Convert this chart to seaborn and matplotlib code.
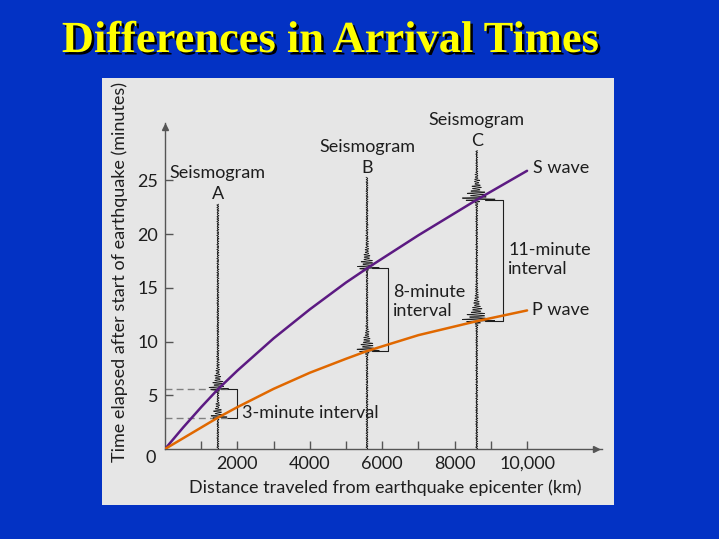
import numpy as np
import pandas as pd
import matplotlib
matplotlib.use("Agg")
import matplotlib.pyplot as plt
import matplotlib.patheffects as pe
from matplotlib.patches import Rectangle
import seaborn as sns

# travel-time curves (km, minutes)
distance_km = [0, 500, 1000, 1460, 2000, 3000, 4000, 5000, 5580, 7000, 8610, 10000]
s_wave_min = [0, 2.0, 3.9, 5.56, 7.3, 10.3, 13.0, 15.5, 16.82, 19.9, 23.2, 25.9]
p_wave_min = [0, 1.0, 2.0, 2.92, 3.9, 5.6, 7.1, 8.4, 9.12, 10.6, 11.9, 12.9]

# seismograph stations
station_names = ["A", "B", "C"]
station_km = [1460, 5580, 8610]
station_top_min = [22.8, 25.3, 27.8]
s_arrival_min = [5.56, 16.82, 23.2]
p_arrival_min = [2.92, 9.12, 11.9]
interval_labels = ["3-minute interval", "8-minute\ninterval", "11-minute\ninterval"]

x_ticks = [2000, 4000, 6000, 8000, 10000]
x_tick_labels = ["2000", "4000", "6000", "8000", "10,000"]
x_minor = [1000, 3000, 5000, 7000, 9000]
y_ticks = [5, 10, 15, 20, 25]

BLUE = "#0332C4"
PANEL = "#E6E6E6"
S_COLOR = "#5C1A82"
P_COLOR = "#E06800"
INK = "#1E1E1E"
AXIS = "#555555"
FS = 13

sns.set_style("ticks")
plt.rcParams["font.family"] = ["Lato", "DejaVu Sans"]

W, H = 719, 539
fig = plt.figure(figsize=(W / 100, H / 100), dpi=100, facecolor=BLUE)
fig.patches.append(Rectangle((102 / W, 1 - 505 / H), (614 - 102) / W, (505 - 78) / H,
                             transform=fig.transFigure, facecolor=PANEL,
                             edgecolor="none", zorder=-1))

ax = fig.add_axes([165 / W, 90 / H, 437 / W, 326 / H])
ax.set_zorder(2)
ax.set_facecolor("none")
ax.set_xlim(0, 12070)
ax.set_ylim(0, 30.35)

# curves
n = len(distance_km)
curves = pd.DataFrame({
    "distance": distance_km * 2,
    "time": s_wave_min + p_wave_min,
    "wave": ["S"] * n + ["P"] * n,
})
sns.lineplot(data=curves, x="distance", y="time", hue="wave",
             palette={"S": S_COLOR, "P": P_COLOR}, linewidth=1.8,
             legend=False, sort=False, ax=ax, zorder=4)


def seismogram(x0, top, arrivals, amps):
    # decorative trace: small background jitter plus a burst at each arrival
    t = np.linspace(0, top, 5000)
    wiggle = 32 * (0.5 * np.sin(t * 29.0) + 0.3 * np.sin(t * 53.0 + 1.3)
                   + 0.2 * np.sin(t * 97.0 + 0.4))
    for ta, amp in zip(arrivals, amps):
        dt = t - ta
        env = np.where(dt >= 0, amp * np.exp(-dt / 0.85), amp * np.exp(dt / 0.12))
        env = env * (0.75 + 0.25 * np.sin(dt * 11.0 + 0.7))
        wiggle = wiggle + env * np.sin(dt * 2 * np.pi / 0.22)
    ax.plot(x0 + wiggle, t, color=INK, lw=0.55, zorder=3)


amp_style = [(330, 280), (380, 360), (520, 520)]
word_dy = 2.85
letter_dy = 0.9
for i, name in enumerate(station_names):
    x0 = station_km[i]
    seismogram(x0, station_top_min[i], [s_arrival_min[i], p_arrival_min[i]], amp_style[i])
    ax.text(x0, station_top_min[i] + word_dy, "Seismogram", ha="center", va="center",
            fontsize=FS, color=INK)
    ax.text(x0, station_top_min[i] + letter_dy, name, ha="center", va="center",
            fontsize=FS, color=INK)

# brackets
bracket_x = [1987, 6170, 9345]
arm_start = [1700, 5710, 8840]
for i in range(3):
    s, p = s_arrival_min[i], p_arrival_min[i]
    ax.plot([arm_start[i], bracket_x[i], bracket_x[i], arm_start[i]], [s, s, p, p],
            color=INK, lw=0.8, zorder=2)

# dashed guides for seismogram A
for level in (s_arrival_min[0], p_arrival_min[0]):
    ax.plot([0, arm_start[0]], [level, level], color="#808080", lw=1.0,
            dashes=(5, 3), zorder=2)

ax.text(2119, 3.38, interval_labels[0], ha="left", va="center", fontsize=FS, color=INK)
ax.text(6307, 13.71, interval_labels[1], ha="left", va="center", fontsize=FS, color=INK)
ax.text(9483, 17.66, interval_labels[2], ha="left", va="center", fontsize=FS, color=INK)
ax.text(10166, 26.16, "S wave", ha="left", va="center", fontsize=FS, color=INK)
ax.text(10130, 12.94, "P wave", ha="left", va="center", fontsize=FS, color=INK)

# axes
sns.despine(ax=ax)
for side in ("left", "bottom"):
    ax.spines[side].set_color(AXIS)
    ax.spines[side].set_linewidth(1.0)
ax.plot([0], [30.0], marker="^", color=AXIS, markersize=5, clip_on=False)
ax.plot([11900], [0], marker=">", color=AXIS, markersize=5, clip_on=False)

ax.set_xticks(x_ticks, x_tick_labels)
ax.set_xticks(x_minor, minor=True)
ax.set_yticks(y_ticks, [str(v) for v in y_ticks])
ax.tick_params(which="both", direction="in", length=6, color=AXIS, width=1,
               labelsize=FS, labelcolor=INK, pad=5)
ax.text(-250, -0.85, "0", ha="right", va="center", fontsize=FS, color=INK)
ax.set_xlabel("")
ax.set_ylabel("")

fig.text(385 / W, 1 - 488 / H, "Distance traveled from earthquake epicenter (km)",
         ha="center", va="center", fontsize=FS, color=INK)
fig.text(120 / W, 1 - 272 / H, "Time elapsed after start of earthquake (minutes)",
         ha="center", va="center", rotation=90, fontsize=FS, color=INK)

fig.text(331 / W, 1 - 41 / H, "Differences in Arrival Times", ha="center", va="center",
         fontsize=32, fontweight="bold", family="Liberation Serif", color="#FFFF00",
         path_effects=[pe.withSimplePatchShadow(offset=(1.8, -1.8),
                                                shadow_rgbFace="black", alpha=1.0)])

fig.savefig("out.png", dpi=100, facecolor=BLUE)
